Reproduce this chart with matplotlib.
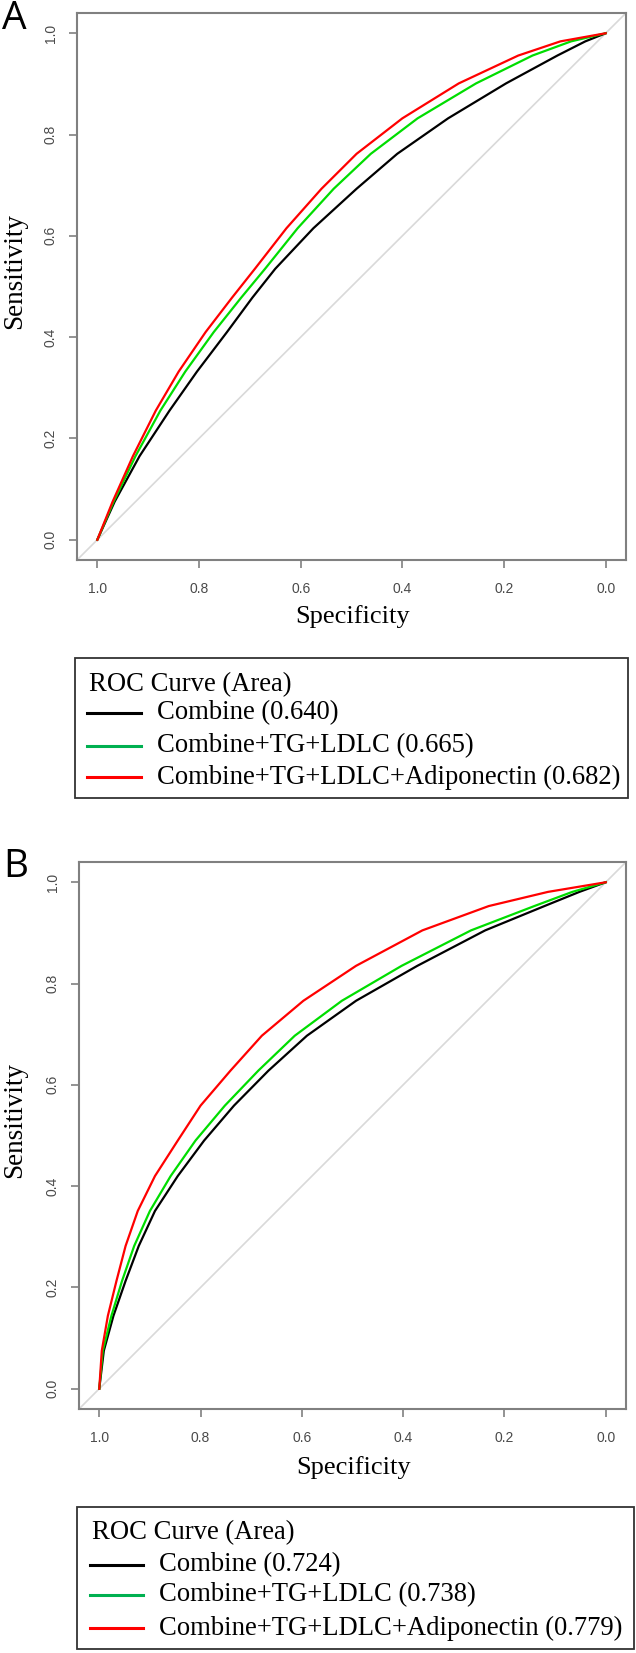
import matplotlib.pyplot as plt
from matplotlib.lines import Line2D
from matplotlib.patches import Rectangle

W, H = 636, 1653

# ---- data ----
ticks = [1.0, 0.8, 0.6, 0.4, 0.2, 0.0]
tick_labels = ["1.0", "0.8", "0.6", "0.4", "0.2", "0.0"]
ytick_labels = ["0.0", "0.2", "0.4", "0.6", "0.8", "1.0"]

# panel A (specificity, sensitivity)
a_sens = [0, 0.075, 0.165, 0.255, 0.332, 0.410, 0.478, 0.535,
          0.615, 0.693, 0.762, 0.832, 0.901, 0.956, 0.984, 1]
a_black_spec = [1, 0.966, 0.917, 0.858, 0.804, 0.745, 0.695, 0.650,
                0.575, 0.490, 0.410, 0.310, 0.196, 0.095, 0.040, 0]
a_green_spec = [1, 0.968, 0.925, 0.876, 0.827, 0.771, 0.717, 0.670,
                0.606, 0.535, 0.462, 0.370, 0.255, 0.144, 0.068, 0]
a_red_spec = [1, 0.970, 0.930, 0.885, 0.840, 0.787, 0.735, 0.690,
              0.628, 0.559, 0.490, 0.400, 0.289, 0.172, 0.089, 0]
a_labels = ["Combine (0.640)", "Combine+TG+LDLC (0.665)",
            "Combine+TG+LDLC+Adiponectin (0.682)"]

# panel B
b_sens = [0, 0.075, 0.144, 0.213, 0.282, 0.351, 0.420, 0.490, 0.559,
          0.628, 0.697, 0.766, 0.835, 0.905, 0.953, 0.981, 1]
b_black_spec = [1, 0.991, 0.972, 0.948, 0.922, 0.890, 0.845, 0.793, 0.734,
                0.666, 0.590, 0.493, 0.372, 0.238, 0.121, 0.052, 0]
b_green_spec = [1, 0.993, 0.976, 0.955, 0.931, 0.900, 0.859, 0.810, 0.752,
                0.686, 0.614, 0.521, 0.403, 0.266, 0.141, 0.066, 0]
b_red_spec = [1, 0.995, 0.983, 0.966, 0.948, 0.924, 0.890, 0.845, 0.800,
              0.741, 0.679, 0.597, 0.493, 0.362, 0.231, 0.114, 0]
b_labels = ["Combine (0.724)", "Combine+TG+LDLC (0.738)",
            "Combine+TG+LDLC+Adiponectin (0.779)"]

curve_colors = ["black", "#00dd00", "red"]
legend_colors = ["black", "#00b050", "red"]

SERIF = "Liberation Serif"
SANS = "Liberation Sans"
GREY = "#808080"


def fx(x):
    return x / W


def fy(y):
    return 1 - y / H


def roc_axes(fig, left, top, right, bottom, curves):
    ax = fig.add_axes([fx(left), fy(bottom), (right - left) / W, (bottom - top) / H])
    ax.axline((1, 0), (0, 1), color="#d9d9d9", lw=1.2, zorder=1)
    for (spec, sens), c in zip(curves, curve_colors):
        ax.plot(spec, sens, color=c, lw=1.6, zorder=2)
    ax.set_xlim(1.04, -0.04)
    ax.set_ylim(-0.04, 1.04)
    ax.set_xticks(ticks)
    ax.set_xticklabels(tick_labels)
    ax.set_yticks(ticks[::-1])
    ax.set_yticklabels(ytick_labels)
    ax.tick_params(length=6, width=1.2, color=GREY, labelcolor="#4a4a4a",
                   labelsize=10)
    ax.tick_params(axis="x", pad=10)
    ax.tick_params(axis="y", pad=8)
    for lab in ax.get_xticklabels() + ax.get_yticklabels():
        lab.set_family(SANS)
    for lab in ax.get_yticklabels():
        lab.set_rotation(90)
        lab.set_va("center")
    for sp in ax.spines.values():
        sp.set_color(GREY)
        sp.set_linewidth(1.5)
    return ax


def legend_box(fig, left, top, right, bottom, title_y, rows_y, line_x, text_x, labels):
    fig.patches.append(Rectangle((fx(left), fy(bottom)), (right - left) / W,
                                 (bottom - top) / H, transform=fig.transFigure,
                                 fill=False, edgecolor="#333333", lw=1.3))
    fig.text(fx(line_x[0] + 2), fy(title_y), "ROC Curve (Area)", family=SERIF,
             fontsize=19.2, va="center", ha="left")
    for y, lab, c in zip(rows_y, labels, legend_colors):
        fig.lines.append(Line2D([fx(line_x[0]), fx(line_x[1])], [fy(y), fy(y)],
                                transform=fig.transFigure, color=c, lw=2.2))
        fig.text(fx(text_x), fy(y), lab, family=SERIF, fontsize=19.2,
                 va="center", ha="left")


fig = plt.figure(figsize=(W / 100, H / 100), dpi=100)

# panel A
roc_axes(fig, 77, 13, 626, 560,
         [(a_black_spec, a_sens), (a_green_spec, a_sens), (a_red_spec, a_sens)])
fig.text(fx(2), fy(19), "A", family="Open Sans", fontsize=28, va="center", ha="left")
fig.text(fx(353), fy(617), "Specificity", family=SERIF, fontsize=19, ha="center", va="center")
fig.text(fx(15), fy(271), "Sensitivity", family=SERIF, fontsize=19.5, rotation=90,
         ha="center", va="center")
legend_box(fig, 75, 658, 628, 798, 685, [713, 746, 777], (87, 141), 157, a_labels)

# panel B
roc_axes(fig, 79, 862, 626, 1409,
         [(b_black_spec, b_sens), (b_green_spec, b_sens), (b_red_spec, b_sens)])
fig.text(fx(3), fy(867), "B", family="Open Sans", fontsize=28, va="center", ha="left")
fig.text(fx(354), fy(1468), "Specificity", family=SERIF, fontsize=19, ha="center", va="center")
fig.text(fx(15), fy(1120), "Sensitivity", family=SERIF, fontsize=19.5, rotation=90,
         ha="center", va="center")
legend_box(fig, 77, 1507, 634, 1649, 1533, [1565, 1595, 1628], (90, 143), 159, b_labels)

fig.savefig("out.png", dpi=100)
